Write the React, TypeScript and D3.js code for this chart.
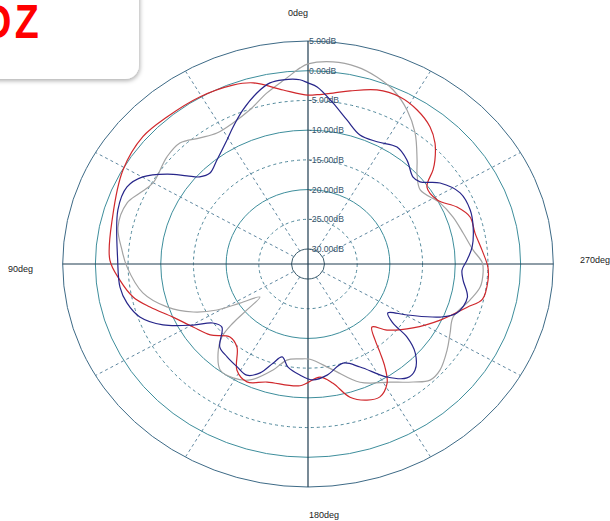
import { useEffect, useRef } from 'react'
import * as d3 from 'd3'

// ring levels (dB) and their labels
const ringLevels = [5, 0, -5, -10, -15, -20, -25, -30]
const ringLabels = ['5.00dB', '0.00dB', '-5.00dB', '-10.00dB', '-15.00dB', '-20.00dB', '-25.00dB', '-30.00dB']
const spokeAngles = [30, 60, 120, 150, 210, 240, 300, 330]
const axisLabels = ['0deg', '90deg', '180deg', '270deg']

// series: angle (deg, CCW from top) and level (dB)
const redAngles = [0, 7.4, 15.4, 20.9, 30.5, 41.1, 49.7, 60.8, 75.2, 88.7, 95.3, 101.7, 106.7, 113.4, 121.1, 128.6, 135.8, 142.2, 148.7, 154.8, 162.5, 176.6, 185.5, 190.8, 196, 201.5, 206.2, 211.1, 214.2, 216.4, 218.7, 222.7, 227.4, 236.2, 245, 253.4, 257.4, 264.4, 268.9, 275, 281.5, 287.7, 292.8, 298.6, 305.4, 309.6, 312, 316.3, 321, 327.2, 333.4, 340.2, 347.5, 352.4, 357.2]
const redDb = [-4.1, -3.0, -0.9, -0.3, 0.1, 0.3, 0.6, -0.1, -1.6, -2.2, -3.6, -5.2, -7.3, -10.0, -12.0, -13.4, -15.4, -14.8, -11.6, -10.6, -11.7, -12.0, -13.4, -12.1, -9.2, -7.9, -7.6, -9.1, -11.6, -13.9, -16.1, -18.1, -16.1, -13.2, -10.2, -7.1, -5.2, -4.85, -5.0, -5.8, -6.45, -6.5, -7.8, -10.0, -10.2, -7.7, -6.4, -4.4, -2.85, -1.7, -1.1, -1.4, -2.7, -3.5, -4.0]

const navyAngles = [0, 2.3, 7, 10.8, 15.2, 21, 26.5, 30.7, 38.5, 44.4, 48.5, 51.3, 54.9, 59.9, 64.9, 72.6, 88.7, 97.7, 103.3, 109.1, 114.8, 120.3, 124.3, 128.9, 136, 141.6, 148, 153.4, 158.2, 162.2, 165.8, 170, 176.2, 182.2, 188.9, 197.8, 204.7, 212.4, 218.3, 222.5, 227.6, 230.9, 232.6, 236, 240.5, 246.2, 250.1, 257, 263.5, 267.5, 271.6, 276.5, 283.9, 290.1, 297.2, 304, 308.9, 312.3, 319.1, 325.3, 332.8, 339.9, 346.2, 352, 357.3]
const navyDb = [-2.05, -1.5, -1.3, -1.5, -2.7, -4.75, -6.8, -8.25, -10.15, -11.1, -10.4, -8.8, -6.2, -3.3, -1.95, -2.05, -3.4, -3.5, -4.06, -5.3, -8.1, -12.15, -14.9, -15.6, -13.1, -12.6, -12.1, -11.6, -12.8, -15.0, -16.4, -14.9, -13.8, -13.0, -13.6, -15.0, -13.45, -10.0, -8.1, -8.3, -10.3, -13.0, -16.2, -17.8, -15.1, -10.4, -8.3, -7.5, -8.65, -8.94, -8.18, -7.25, -6.5, -6.1, -6.36, -8.15, -10.5, -10.8, -9.4, -8.6, -9.4, -9.4, -7.56, -5.15, -2.7]

const grayAngles = [0, 2.1, 5.9, 12.3, 18.9, 25.8, 32.3, 37.9, 43.9, 50.1, 60.1, 65.1, 69.7, 77.9, 85.3, 91, 100.9, 108.5, 114.7, 119.1, 122.3, 127.1, 129.6, 130.9, 133, 137.4, 143, 149.1, 155.6, 163.3, 168.7, 175.6, 181.1, 192.1, 201.8, 212.3, 219, 223.7, 228.5, 235.8, 241.9, 248.1, 256.3, 261.6, 266.8, 270.5, 275.3, 282.4, 289.6, 297, 306, 311.9, 316.4, 323.4, 329.7, 336, 341.5, 347.3, 353.6]
const grayDb = [1.14, 0.5, -1.04, -3.06, -5.1, -6.16, -6.45, -5.64, -4.26, -4.4, -5.17, -4.17, -3.0, -2.8, -3.97, -4.83, -6.8, -9.77, -13.2, -16.6, -20.2, -23.3, -20.4, -17.3, -14.5, -12.2, -10.2, -10.2, -11.1, -13.9, -16.04, -16.5, -16.5, -14.3, -11.1, -9.0, -6.97, -5.5, -5.57, -6.79, -7.88, -8.6, -7.0, -5.9, -5.7, -5.87, -7.15, -8.23, -8.97, -9.87, -11.3, -10.1, -8.33, -5.05, -2.5, -0.47, 0.67, 1.48, 1.7]

const W = 610
const H = 521

export default function App() {
  const ref = useRef<SVGSVGElement | null>(null)

  useEffect(() => {
    const svg = d3.select(ref.current)
    svg.selectAll('*').remove()
    svg.attr('width', W).attr('height', H).style('background', '#fff')

    const cx = 308
    const cy = 264
    const kx = 1.1 // plot is stretched horizontally
    const r = d3.scaleLinear().domain([-30, 5]).range([15, 223])
    const rad = (a: number) => (a * Math.PI) / 180
    const px = (a: number, db: number) => cx - r(db) * kx * Math.sin(rad(a))
    const py = (a: number, db: number) => cy - r(db) * Math.cos(rad(a))

    const g = svg.append('g')

    // rings
    ringLevels.forEach((v) => {
      const dashed = v === -5 || v === -15 || v === -25
      const color = v === 5 ? '#3d6a86' : v === -30 ? '#3c5c6c' : dashed ? '#4f879a' : '#3e8e9c'
      g.append('ellipse')
        .attr('cx', cx)
        .attr('cy', cy)
        .attr('rx', r(v) * kx)
        .attr('ry', r(v))
        .attr('fill', 'none')
        .attr('stroke', color)
        .attr('stroke-width', 1)
        .attr('stroke-dasharray', dashed ? '3 3' : null)
    })

    // dashed spokes
    spokeAngles.forEach((a) => {
      g.append('line')
        .attr('x1', px(a, -30))
        .attr('y1', py(a, -30))
        .attr('x2', px(a, 5))
        .attr('y2', py(a, 5))
        .attr('stroke', '#5f87a0')
        .attr('stroke-width', 1)
        .attr('stroke-dasharray', '3 3')
    })

    // main axes
    g.append('line')
      .attr('x1', px(90, 5)).attr('y1', cy)
      .attr('x2', px(270, 5)).attr('y2', cy)
      .attr('stroke', '#1f3c50').attr('stroke-width', 1.2)
    g.append('line')
      .attr('x1', cx).attr('y1', py(0, 5))
      .attr('x2', cx).attr('y2', py(180, 5))
      .attr('stroke', '#1f3c50').attr('stroke-width', 1.2)

    // ring labels
    g.selectAll('text.rl')
      .data(ringLevels)
      .enter()
      .append('text')
      .attr('class', 'rl')
      .attr('x', cx + 1)
      .attr('y', (d) => cy - r(d))
      .attr('dy', '0.35em')
      .attr('fill', '#35536a')
      .style('font-family', 'Liberation Sans, Arial, sans-serif')
      .style('font-size', '8.6px')
      .text((d, i) => ringLabels[i])

    // angle labels
    const degFont = 'Liberation Sans, Arial, sans-serif'
    const degPos = [
      { x: cx, y: 13, anchor: 'end' },
      { x: 8, y: 269, anchor: 'start' },
      { x: cx + 1, y: 515, anchor: 'start' },
      { x: 580, y: 260, anchor: 'start' },
    ]
    axisLabels.forEach((t, i) => {
      g.append('text')
        .attr('x', degPos[i].x)
        .attr('y', degPos[i].y)
        .attr('dy', '0.35em')
        .attr('text-anchor', degPos[i].anchor)
        .attr('fill', '#222')
        .style('font-family', degFont)
        .style('font-size', '9px')
        .text(t)
    })

    // pattern curves
    const line = d3
      .line<[number, number]>()
      .x((d) => px(d[0], d[1]))
      .y((d) => py(d[0], d[1]))
      .curve(d3.curveCatmullRomClosed.alpha(0.5))

    const series = [
      { a: grayAngles, v: grayDb, color: '#a3a3a3' },
      { a: redAngles, v: redDb, color: '#d0282c' },
      { a: navyAngles, v: navyDb, color: '#27268a' },
    ]
    series.forEach((s) => {
      g.append('path')
        .datum(d3.zip(s.a, s.v) as [number, number][])
        .attr('fill', 'none')
        .attr('stroke', s.color)
        .attr('stroke-width', 1.2)
        .attr('d', line as any)
    })

    // watermark box in the corner
    const defs = svg.append('defs')
    const f = defs.append('filter').attr('id', 'wm-shadow').attr('x', '-20%').attr('y', '-20%').attr('width', '150%').attr('height', '150%')
    f.append('feDropShadow').attr('dx', 1).attr('dy', 2).attr('stdDeviation', 2).attr('flood-color', '#000').attr('flood-opacity', 0.3)
    svg.append('rect')
      .attr('x', -30).attr('y', -30)
      .attr('width', 169).attr('height', 109)
      .attr('rx', 14)
      .attr('fill', '#fff')
      .attr('filter', 'url(#wm-shadow)')
    svg.append('text')
      .attr('transform', 'translate(42,38) scale(0.82,1)')
      .attr('text-anchor', 'end')
      .attr('fill', '#ff0000')
      .attr('letter-spacing', 4)
      .style('font-family', 'Liberation Sans, Arial, sans-serif')
      .style('font-weight', 'bold')
      .style('font-size', '48px')
      .text('DZ')
  }, [])

  return <svg ref={ref} style={{ position: 'absolute', left: 0, top: 0 }} />
}
